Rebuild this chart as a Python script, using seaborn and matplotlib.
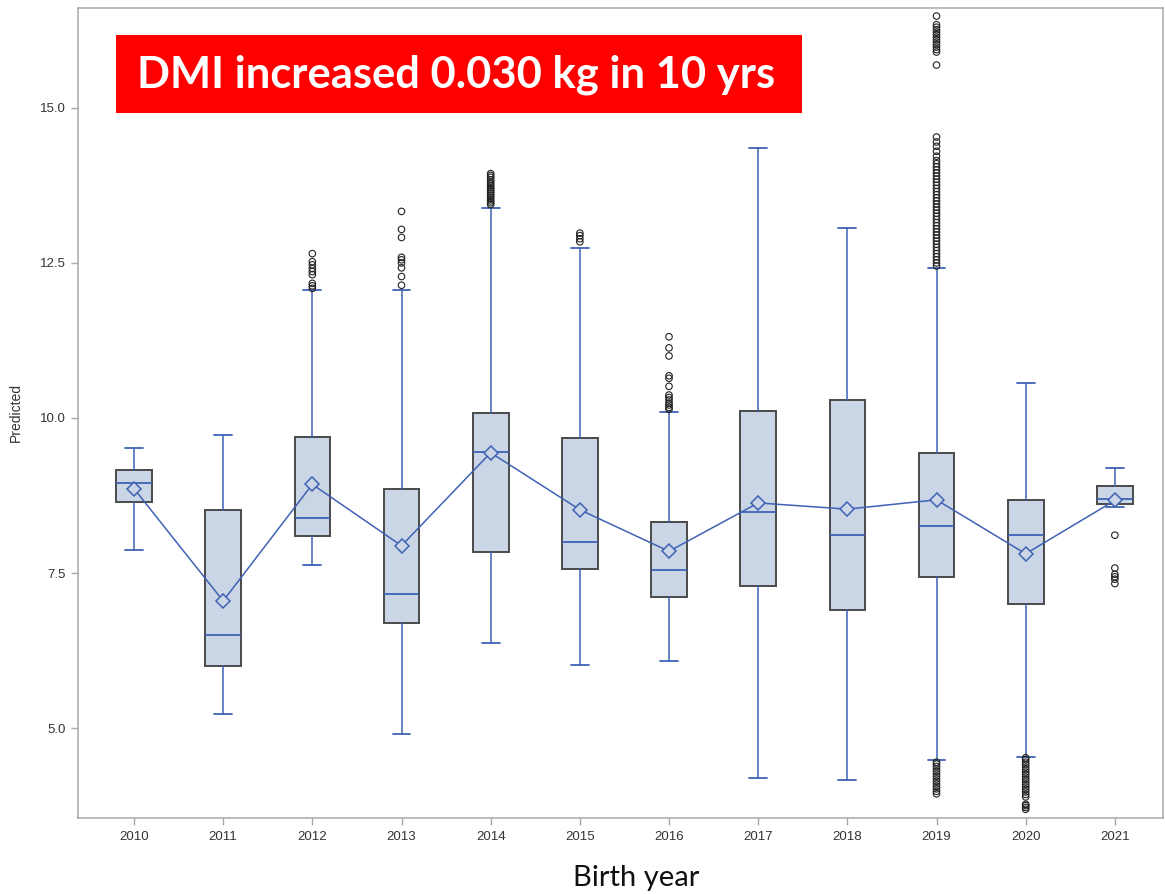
import numpy as np
import pandas as pd
import matplotlib
matplotlib.use("Agg")
import matplotlib.pyplot as plt
from matplotlib.patches import Rectangle
import seaborn as sns

# ---- data -------------------------------------------------------------
years = ["2010", "2011", "2012", "2013", "2014", "2015",
         "2016", "2017", "2018", "2019", "2020", "2021"]

whisker_low = [7.87, 5.23, 7.63, 4.91, 6.37, 6.02, 6.08, 4.19, 4.17, 4.49, 4.54, 8.57]
q1_vals     = [8.645, 6.005, 8.10, 6.70, 7.84, 7.56, 7.12, 7.29, 6.90, 7.44, 7.00, 8.61]
median_vals = [8.95, 6.50, 8.39, 7.16, 9.45, 8.00, 7.55, 8.48, 8.11, 8.25, 8.12, 8.70]
q3_vals     = [9.16, 8.52, 9.69, 8.86, 10.08, 9.67, 8.32, 10.11, 10.29, 9.43, 8.67, 8.91]
whisker_high = [9.52, 9.72, 12.06, 12.06, 13.39, 12.74, 10.10, 14.35, 13.07, 12.42, 10.57, 9.20]
mean_vals   = [8.86, 7.05, 8.93, 7.94, 9.44, 8.52, 7.85, 8.63, 8.53, 8.68, 7.81, 8.67]

outliers = {
    "2012": [12.09, 12.13, 12.17, 12.31, 12.36, 12.41, 12.47, 12.52, 12.65],
    "2013": [12.14, 12.28, 12.42, 12.50, 12.55, 12.59, 12.91, 13.04, 13.33],
    "2014": [13.44, 13.47, 13.50, 13.53, 13.56, 13.59, 13.62, 13.65, 13.68,
             13.71, 13.74, 13.77, 13.80, 13.84, 13.88, 13.91, 13.94],
    "2015": [12.84, 12.89, 12.94, 12.98],
    "2016": [10.14, 10.17, 10.21, 10.24, 10.29, 10.33, 10.37, 10.51, 10.64,
             10.68, 11.00, 11.13, 11.31],
    "2019": [12.45, 12.50, 12.55, 12.60, 12.65, 12.70, 12.75, 12.80, 12.85,
             12.90, 12.95, 13.00, 13.05, 13.10, 13.15, 13.20, 13.25, 13.30,
             13.35, 13.40, 13.45, 13.50, 13.55, 13.60, 13.65, 13.70, 13.75,
             13.80, 13.85, 13.90, 13.95, 14.00, 14.05, 14.10, 14.15, 14.22,
             14.30, 14.38, 14.45, 14.53,
             15.69, 15.90, 15.94, 15.98, 16.02, 16.06, 16.10, 16.14, 16.18,
             16.22, 16.26, 16.30, 16.34, 16.48,
             3.94, 3.98, 4.02, 4.06, 4.10, 4.14, 4.18, 4.22, 4.26, 4.30,
             4.34, 4.38, 4.42, 4.45],
    "2020": [3.69, 3.72, 3.75, 3.77, 3.89, 3.93, 3.97, 4.01, 4.05, 4.09,
             4.13, 4.17, 4.21, 4.25, 4.29, 4.33, 4.37, 4.41, 4.45, 4.49, 4.52],
    "2021": [7.33, 7.40, 7.44, 7.48, 7.58, 8.11],
}

# ---- styling ----------------------------------------------------------
sns.set_theme(style="white")
plt.rcParams["font.family"] = ["Liberation Sans", "DejaVu Sans"]

BLUE = "#3F62B5"
FILL = "#CAD5E5"
EDGE = "#4A4A4A"
AXIS_GRAY = "#A8A8A8"

fig = plt.figure(figsize=(11.65, 8.94), dpi=100)
ax = fig.add_axes([78 / 1165, 76 / 894, 1085 / 1165, 810 / 894])

positions = np.arange(len(years))

# Box statistics table for matplotlib's bxp
stats = [
    {"label": y, "whislo": wl, "q1": a, "med": m, "q3": b, "whishi": wh, "fliers": []}
    for y, wl, a, m, b, wh in zip(years, whisker_low, q1_vals, median_vals,
                                  q3_vals, whisker_high)
]
ax.bxp(
    stats, positions=positions, widths=0.40, patch_artist=True,
    showfliers=False, showmeans=False,
    boxprops=dict(facecolor=FILL, edgecolor=EDGE, linewidth=1.4),
    medianprops=dict(color=BLUE, linewidth=1.3),
    whiskerprops=dict(color=BLUE, linewidth=1.1),
    capprops=dict(color=BLUE, linewidth=1.3),
    capwidths=0.20,
    zorder=2,
)

# Outlier points
out_df = pd.DataFrame(
    [(years.index(y), v) for y, vals in outliers.items() for v in vals],
    columns=["pos", "value"],
)
sns.scatterplot(data=out_df, x="pos", y="value", ax=ax, marker="o", s=22,
                facecolor="none", edgecolor="#222222", linewidth=0.8,
                zorder=4, legend=False)

# Mean trend line with diamond markers
mean_df = pd.DataFrame({"pos": positions, "mean": mean_vals})
sns.lineplot(data=mean_df, x="pos", y="mean", ax=ax, color=BLUE, linewidth=1.1,
             marker="D", markersize=7.5, markerfacecolor=FILL,
             markeredgecolor=BLUE, markeredgewidth=1.1, zorder=5)

# ---- axes -------------------------------------------------------------
ax.set_xlim(-0.628, 11.54)
ax.set_ylim(3.55, 16.61)
ax.set_xticks(positions)
ax.set_xticklabels(years)
ax.set_yticks([5.0, 7.5, 10.0, 12.5, 15.0])
ax.set_yticklabels(["5.0", "7.5", "10.0", "12.5", "15.0"])
ax.tick_params(axis="both", which="major", direction="out", length=5,
               width=1, color=AXIS_GRAY, labelsize=9.5, labelcolor="#333333",
               left=True, bottom=True, pad=4)
for side in ["left", "bottom", "top", "right"]:
    ax.spines[side].set_color(AXIS_GRAY)
    ax.spines[side].set_linewidth(1.1)
ax.set_xlabel("")
ax.set_ylabel("Predicted", fontsize=10, color="#333333", labelpad=12)

fig.text(636 / 1165, 1 - 878 / 894, "Birth year", ha="center", va="center",
         fontsize=21, color="#111111", family=["Lato", "DejaVu Sans"])

# Headline banner
fig.patches.append(Rectangle((116 / 1165, 1 - 113 / 894), 686 / 1165, 78 / 894,
                             transform=fig.transFigure, facecolor="#FF0000",
                             edgecolor="none", zorder=10))
fig.text(456 / 1165, 1 - 75 / 894, "DMI increased 0.030 kg in 10 yrs",
         ha="center", va="center", fontsize=31.3, fontweight="bold",
         color="white", family=["Lato", "DejaVu Sans"], zorder=11)

fig.savefig("out.png", dpi=100)
